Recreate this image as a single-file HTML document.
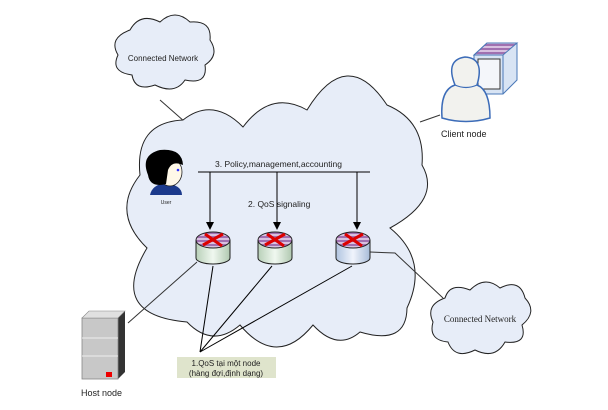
<!DOCTYPE html>
<html><head><meta charset="utf-8"><style>
body{margin:0;background:#fff;width:608px;height:410px;overflow:hidden}
svg{display:block;font-family:"Liberation Sans",sans-serif}
</style></head><body>
<svg width="608" height="410" viewBox="0 0 608 410">
<defs>
<marker id="ar" markerWidth="8" markerHeight="8" refX="7" refY="4" orient="auto" markerUnits="userSpaceOnUse"><path d="M0,0 L8,4 L0,8 z" fill="#000"/></marker>
<linearGradient id="rg" x1="0" x2="1"><stop offset="0" stop-color="#b8d0b8"/><stop offset=".5" stop-color="#f0f8f0"/><stop offset="1" stop-color="#b0c8b0"/></linearGradient>
<linearGradient id="rb" x1="0" x2="1"><stop offset="0" stop-color="#b0c4e0"/><stop offset=".5" stop-color="#f0f4fc"/><stop offset="1" stop-color="#a8bcd8"/></linearGradient>
<pattern id="st" width="4" height="4" patternUnits="userSpaceOnUse"><rect width="4" height="4" fill="#d8c0e0"/><rect width="4" height="2" fill="#a070b0"/></pattern>
</defs>
<!-- connection lines behind -->
<line x1="160" y1="100" x2="185" y2="122" stroke="#333" stroke-width="1"/>
<line x1="420" y1="122" x2="440" y2="115" stroke="#333" stroke-width="1"/>
<!-- main cloud -->
<path d="M183,120 Q213,96.5 243,127 Q271,89.5 307,110 Q347,44.5 387,105 Q425.5,121 422,165 Q442,199.5 390,228 Q429.5,260 407,308 Q406.5,346 360,332 Q337.5,351.5 313,325 Q277,369 240,325 Q212.5,348.5 187,322 Q107,315 147,248 Q110.5,212.5 140,175 Q134.5,122.5 183,120 Z" fill="#e7edf8" stroke="#222" stroke-width="1"/>
<!-- top small cloud -->
<path d="M130,30 Q140,12 160,22 Q175,8 190,22 Q212,20 210,40 Q220,55 205,65 Q208,85 185,80 Q175,95 155,85 Q135,92 132,75 Q110,72 118,55 Q108,38 130,30 Z" fill="#e7edf8" stroke="#222" stroke-width="1"/>
<text x="163" y="61" font-size="8" text-anchor="middle" fill="#222">Connected Network</text>
<!-- right small cloud -->
<path d="M445,298 Q450,282 470,290 Q485,275 500,288 Q520,278 525,298 Q538,312 522,325 Q528,345 505,342 Q495,360 475,350 Q455,360 448,342 Q428,340 433,322 Q425,305 445,298 Z" fill="#e7edf8" stroke="#222" stroke-width="1"/>
<text x="480" y="322" font-size="9" text-anchor="middle" fill="#222" font-family="Liberation Serif,serif">Connected Network</text>
<!-- lines -->
<polyline points="370,252 395,253 443,298" fill="none" stroke="#333" stroke-width="1"/>
<line x1="197" y1="262" x2="128" y2="323" stroke="#333" stroke-width="1"/>
<line x1="213" y1="266" x2="200" y2="352" stroke="#000" stroke-width="1"/>
<line x1="272" y1="266" x2="200" y2="352" stroke="#000" stroke-width="1"/>
<line x1="352" y1="266" x2="200" y2="352" stroke="#000" stroke-width="1"/>
<!-- policy bar -->
<line x1="198" y1="172" x2="370" y2="172" stroke="#000" stroke-width="1"/>
<line x1="210" y1="172" x2="210" y2="229" stroke="#000" marker-end="url(#ar)"/>
<line x1="277" y1="172" x2="277" y2="229" stroke="#000" marker-end="url(#ar)"/>
<line x1="357" y1="172" x2="357" y2="229" stroke="#000" marker-end="url(#ar)"/>
<text x="215" y="167" font-size="8.5" fill="#222">3. Policy,management,accounting</text>
<text x="248" y="207" font-size="8.5" fill="#222">2. QoS signaling</text>
<!-- routers -->
<g id="r1">
<path d="M196,240 L196,258 A17,6 0 0 0 230,258 L230,240" fill="url(#rg)" stroke="#222"/>
<ellipse cx="213" cy="240" rx="17" ry="8" fill="url(#st)" stroke="#222"/>
<path d="M203,245 L223,234 M205,234 L222,246" stroke="#d00" stroke-width="3"/>
</g>
<g transform="translate(62,0)">
<path d="M196,240 L196,258 A17,6 0 0 0 230,258 L230,240" fill="url(#rg)" stroke="#222"/>
<ellipse cx="213" cy="240" rx="17" ry="8" fill="url(#st)" stroke="#222"/>
<path d="M203,245 L223,234 M205,234 L222,246" stroke="#d00" stroke-width="3"/>
</g>
<g transform="translate(140,0)">
<path d="M196,240 L196,258 A17,6 0 0 0 230,258 L230,240" fill="url(#rb)" stroke="#222"/>
<ellipse cx="213" cy="240" rx="17" ry="8" fill="url(#st)" stroke="#222"/>
<path d="M203,245 L223,234 M205,234 L222,246" stroke="#d00" stroke-width="3"/>
</g>
<!-- user -->
<path d="M150,195 Q152,185 165,183 Q182,185 182,195 Z" fill="#1c3a8c"/>
<ellipse cx="170" cy="172" rx="12" ry="14" fill="#fff8e8" stroke="#222" stroke-width=".8"/>
<path d="M148,175 Q140,155 160,150 Q182,148 183,165 Q172,160 168,170 L166,184 Q150,188 148,175 Z" fill="#000"/>
<circle cx="178" cy="170" r="1.3" fill="#33f"/>
<text x="166" y="204" font-size="5" text-anchor="middle" fill="#222">User</text>
<!-- label box -->
<rect x="177" y="357" width="99" height="21" fill="#dfe4cc"/>
<text x="226" y="366" font-size="8" text-anchor="middle" fill="#222">1.QoS tại một node</text>
<text x="226" y="376" font-size="8" text-anchor="middle" fill="#222">(hàng đợi,định dạng)</text>
<!-- host server -->
<path d="M82,318 L89,311 L125,311 L125,372 L118,379 Z" fill="#333"/>
<rect x="82" y="318" width="36" height="61" fill="#c8c8c8" stroke="#888" stroke-width=".8"/>
<path d="M82,318 L89,311 L125,311 L118,318 Z" fill="#e0e0e0" stroke="#888" stroke-width=".6"/>
<line x1="82" y1="338" x2="118" y2="338" stroke="#eee"/>
<line x1="82" y1="356" x2="118" y2="356" stroke="#eee"/>
<rect x="106" y="372" width="6" height="5" fill="#e00"/>
<text x="81" y="396" font-size="9" fill="#222">Host node</text>
<!-- client -->
<path d="M474,55 L487,43 L517,43 L517,80 L503,94 L474,94 Z" fill="#d8e4f4" stroke="#4a78b8"/>
<path d="M474,55 L487,43 L517,43 L503,55 Z" fill="url(#st)" stroke="#4a78b8"/>
<line x1="503" y1="55" x2="503" y2="94" stroke="#4a78b8"/>
<rect x="478" y="59" width="22" height="30" fill="#f4f6fa" stroke="#333"/>
<path d="M442,118 Q440,90 455,85 Q445,60 465,57 Q485,58 477,85 Q490,90 490,118 Q466,125 442,118 Z" fill="#f2f2ee" stroke="#3c6cb8" stroke-width="1.5"/>
<path d="M455,85 Q466,90 477,85" fill="none" stroke="#3c6cb8" stroke-width="1.2"/>
<text x="441" y="137" font-size="9" fill="#222">Client node</text>
</svg>
</body></html>
